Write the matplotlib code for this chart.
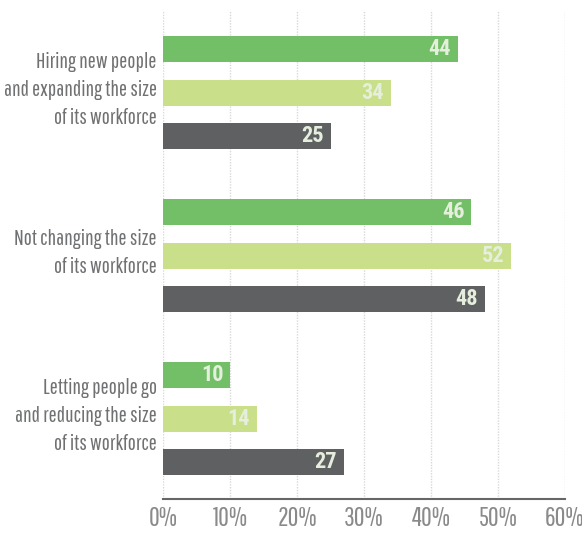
import matplotlib
matplotlib.use("Agg")
import matplotlib.pyplot as plt

# Data
categories = [
    "Hiring new people\nand expanding the size\nof its workforce",
    "Not changing the size\nof its workforce",
    "Letting people go\nand reducing the size\nof its workforce",
]
series_a = [44, 46, 10]  # green
series_b = [34, 52, 14]  # light green
series_c = [25, 48, 27]  # dark gray
ticks = [0, 10, 20, 30, 40, 50, 60]
tick_labels = ["0%", "10%", "20%", "30%", "40%", "50%", "60%"]

colors = ["#72bf67", "#c9df8a", "#5f6062"]
label_font = ["Pathway Gothic One", "DejaVu Sans"]
value_font = ["Roboto Condensed", "DejaVu Sans"]

fig = plt.figure(figsize=(5.82, 5.34), dpi=100)
ax = fig.add_axes([163 / 582, 35 / 534, (565 - 163) / 582, (499 - 10) / 534])

group_gap = 3.75
for s, vals in enumerate([series_a, series_b, series_c]):
    ys = [g * group_gap + s for g in range(len(categories))]
    ax.barh(ys, vals, height=0.6, color=colors[s], zorder=3)
    for y, v in zip(ys, vals):
        ax.text(v - 1.0, y, str(v), ha="right", va="center", color="#e6eedd",
                fontsize=16, fontweight="bold", family=value_font, zorder=4)

for g, cat in enumerate(categories):
    ax.text(-0.9, g * group_gap + 0.95, cat, ha="right", va="center", color="#707173",
            fontsize=15.5, linespacing=1.5, family=label_font)

ax.set_xlim(0, 60)
ax.set_ylim(2 * group_gap + 2 + 0.85, -0.9)
ax.set_xticks(ticks)
ax.set_xticklabels(tick_labels, fontsize=19, color="#8a8a8a", family=label_font)
ax.set_yticks([])
ax.tick_params(axis="x", length=0, pad=5)
ax.xaxis.grid(True, linestyle=(0, (1, 1)), color="#d8d8d8", linewidth=1, zorder=0)
for side in ["left", "right", "top"]:
    ax.spines[side].set_visible(False)
ax.spines["bottom"].set_color("#666666")
ax.spines["bottom"].set_linewidth(1.5)

fig.savefig("out.png", dpi=100)
